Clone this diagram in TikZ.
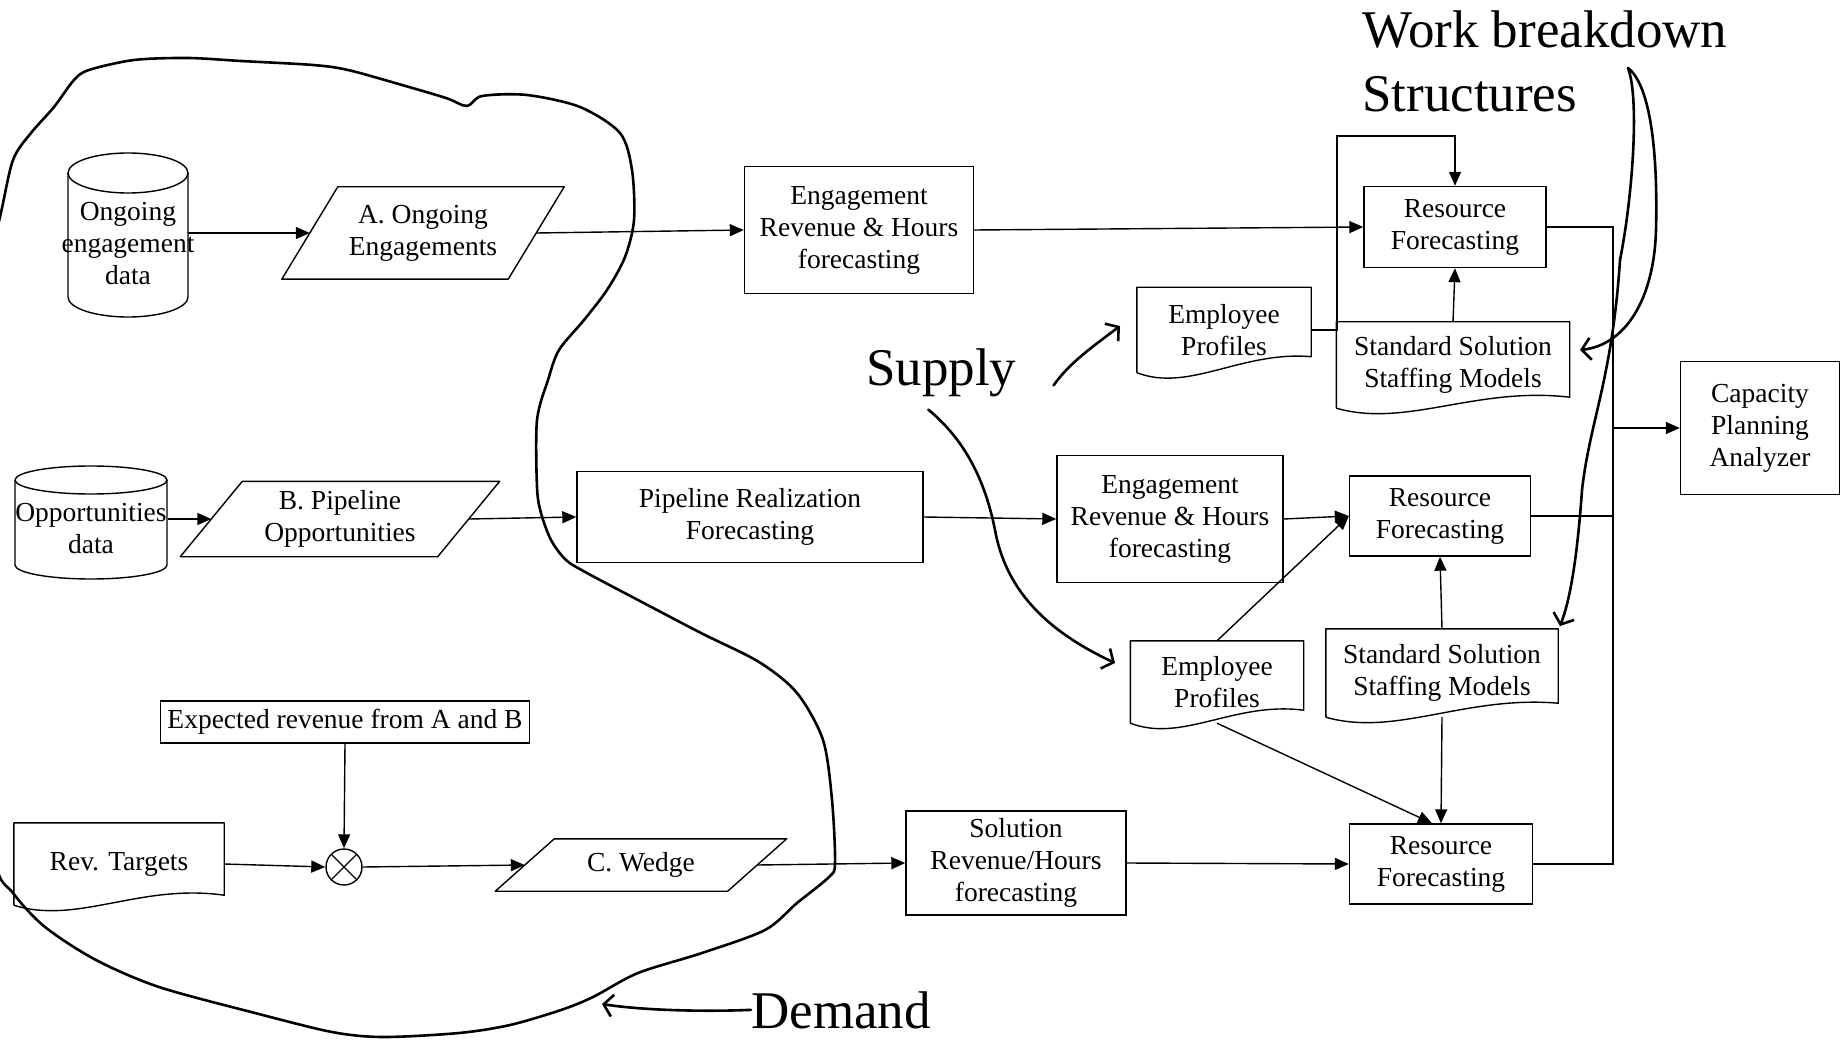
\documentclass[tikz,border=0pt]{standalone}
\usepackage{fontspec}
\setmainfont{Liberation Serif}
\usetikzlibrary{arrows.meta,calc}

\newcommand{\flowfont}{\fontsize{27.5}{32}\selectfont}
\newcommand{\notefont}{\fontsize{53}{64}\selectfont}

\tikzset{
  flow/.style={draw, rectangle, align=center, inner sep=2pt, line width=1.4pt, font=\flowfont},
  store/.style={rectangle, align=center, inner sep=0pt, font=\flowfont},
  slant/.style={rectangle, align=center, inner sep=0pt, font=\flowfont},
  docu/.style={rectangle, align=center, inner sep=0pt, font=\flowfont},
  outline/.style={line width=1.4pt, line join=round},
  arr/.style={line width=1.4pt, -{Triangle[length=14pt,width=12pt]}},
  link/.style={line width=1.4pt},
  hand/.style={line width=2.6pt, line cap=round, line join=round},
  handarr/.style={hand, -{Straight Barb[length=9pt,width=22pt]}},
  note/.style={inner sep=0pt, font=\notefont}
}

\begin{document}
\begin{tikzpicture}[x=1pt, y=-1pt]
  \useasboundingbox (0,0) rectangle (1841,1040);

  % demand side
  \node[store, minimum width=120pt, minimum height=120pt, inner xsep=-8pt] (ongoing) at (128,244) {Ongoing\\engagement\\data};
  \node[slant, minimum width=226pt, minimum height=92pt] (enga) at (423,233) {A. Ongoing\\Engagements};
  \node[store, minimum width=153pt, minimum height=80pt, inner xsep=-3pt] (oppdata) at (91,529) {Opportunities\\data};
  \node[slant, minimum width=257pt, minimum height=75pt] (pipeb) at (340,519) {B. Pipeline\\Opportunities};
  \node[flow, minimum width=369pt, minimum height=42pt] (expected) at (345,722) {Expected revenue from A and B};
  \node[docu, minimum width=210pt, minimum height=82pt] (revtarget) at (119,864) {Rev. Targets};
  \node[draw, circle, line width=1.4pt, minimum size=36pt, inner sep=0pt,
    path picture={\draw[line width=1.2pt] (path picture bounding box.north west) -- (path picture bounding box.south east)
      (path picture bounding box.north east) -- (path picture bounding box.south west);}] (times) at (344,867) {};
  \node[slant, minimum width=232pt, minimum height=52pt] (wedge) at (641,865) {C. Wedge};

  % forecasting
  \node[flow, minimum width=229pt, minimum height=127pt] (erh1) at (859,230) {Engagement\\Revenue \& Hours\\forecasting};
  \node[flow, minimum width=346pt, minimum height=91pt] (prf) at (750,517) {Pipeline Realization\\Forecasting};
  \node[flow, minimum width=226pt, minimum height=127pt] (erh2) at (1170,519) {Engagement\\Revenue \& Hours\\forecasting};
  \node[flow, minimum width=220pt, minimum height=104pt] (srh) at (1016,863) {Solution\\Revenue/Hours\\forecasting};

  % supply side
  \node[flow, minimum width=182pt, minimum height=81pt] (rf1) at (1455,227) {Resource\\Forecasting};
  \node[docu, minimum width=174pt, minimum height=85pt] (ep1) at (1224,330) {Employee\\Profiles};
  \node[docu, minimum width=233pt, minimum height=86pt] (sssm1) at (1453,365) {Standard Solution\\Staffing Models};
  \node[flow, minimum width=181pt, minimum height=80pt] (rf2) at (1440,516) {Resource\\Forecasting};
  \node[docu, minimum width=173pt, minimum height=82pt] (ep2) at (1217,682) {Employee\\Profiles};
  \node[docu, minimum width=232pt, minimum height=88pt] (sssm2) at (1442,673) {Standard Solution\\Staffing Models};
  \node[flow, minimum width=183pt, minimum height=80pt] (rf3) at (1441,864) {Resource\\Forecasting};
  \node[flow, minimum width=159pt, minimum height=133pt] (cpa) at (1760,428) {Capacity\\Planning\\Analyzer};

  % outlines of the drums, slanted and document shapes
  \foreach \n/\w/\r/\t/\b in {ongoing/60/20/153/317,oppdata/76/14/466/579}{
    \draw[outline] ($(\n.center |- 0,\t)+(0,\r)$) ellipse [x radius=\w, y radius=\r];
    \draw[outline] ($(\n.center |- 0,\t)+(-\w,\r)$) -- ($(\n.center |- 0,\b)+(-\w,-\r)$)
      arc[start angle=180, end angle=0, x radius=\w, y radius=\r] -- ($(\n.center |- 0,\t)+(\w,\r)$);
  }
  \foreach \n/\s in {enga/56,pipeb/62,wedge/59}
    \draw[outline] ($(\n.north west)+(\s/2,0)$) -- ($(\n.north east)+(\s/2,0)$)
      -- ($(\n.south east)-(\s/2,0)$) -- ($(\n.south west)-(\s/2,0)$) -- cycle;
  \foreach \n/\r in {ep1/16,sssm1/11,ep2/13,sssm2/14,revtarget/10}
    \draw[outline] (\n.south west) -- (\n.north west) -- (\n.north east) -- ($(\n.south east)+(0,-\r)$)
      .. controls ($(\n.south west)!0.6!(\n.south east)+(0,-22)$) and ($(\n.south west)!0.3!(\n.south east)+(0,20)$) .. (\n.south west);

  \coordinate (looptop) at (1337,136);
  \coordinate (bus) at (1613,428);

  \draw[arr] (ongoing.east |- enga.west) -- (enga.west);
  \draw[arr] (enga.east) -- (erh1.west);
  \draw[arr] (erh1.east) -- (rf1.west);
  \draw[arr] (ep1.east) -- (ep1.east -| looptop) -- (looptop) -| (rf1.north);
  \draw[arr] (sssm1.north) -- (rf1.south);
  \draw[arr] (oppdata.east |- pipeb.west) -- (pipeb.west);
  \draw[arr] (pipeb.east) -- (prf.west);
  \draw[arr] (prf.east) -- (erh2.west);
  \draw[arr] (erh2.east) -- (rf2.west);
  \draw[arr] (ep2.north) -- (rf2.west);
  \draw[arr] (sssm2.north) -- (rf2.south);
  \draw[arr] (sssm2.south) -- (rf3.north);
  \draw[arr] (ep2.south) -- ($(rf3.north)+(-9,0)$);
  \draw[arr] (expected.south) -- (times.north);
  \draw[arr] (revtarget.east) -- (times.west);
  \draw[arr] (times.east) -- (wedge.west);
  \draw[arr] (wedge.east) -- (srh.west);
  \draw[arr] (srh.east) -- (rf3.west);
  \draw[link] (rf1.east) -| (bus |- rf3.east) -- (rf3.east);
  \draw[link] (rf2.east) -- (rf2.east -| bus);
  \draw[arr] (bus) -- (cpa.west);

  % hand written notes
  \node[note, anchor=north west, align=left] (wbs) at (1362,11) {Work breakdown\\Structures};
  \node[note, anchor=base west] (supply) at (866,385) {Supply};
  \node[note, anchor=base west] (demand) at (751,1028) {Demand};

  \begin{scope}
    \clip (0,0) rectangle (1841,1040);
    \draw[hand] plot[smooth cycle, tension=0.5] coordinates {
      (0,217) (13,160) (31,133) (54,107) (74,80) (89,70) (134,60) (188,58) (241,61)
      (313,65) (348,70) (402,85) (446,98) (467,106) (482,96) (527,95) (580,107)
      (620,133) (632,170) (634,220) (625,257) (607,290) (584,320) (559,350) (548,380)
      (537,420) (537,487) (541,513) (551,540) (566,560) (587,573) (638,600) (701,633)
      (759,662) (797,693) (823,740) (832,800) (835,863) (829,877) (797,903) (765,930)
      (702,953) (638,973) (593,997) (561,1010) (510,1025) (459,1033) (383,1037)
      (332,1032) (255,1013) (159,987) (96,960) (45,927) (13,893) (-5,860)
      (-25,700) (-30,500) (-20,300)};
  \end{scope}

  \coordinate (demandtip) at (602,1004);
  \coordinate (supplytip1) at (1120,326);
  \coordinate (supplytip2) at (1115,663);
  \coordinate (wbstop) at (1628,68);
  \coordinate (wbstip1) at (1580,350);
  \coordinate (wbstip2) at (1560,626);

  \draw[handarr] (demand.west) .. controls (700,1012) and (640,1010) .. (demandtip);
  \draw[handarr] ($(supply.east)+(37,13)$) .. controls (1070,362) and (1095,345) .. (supplytip1);
  \draw[handarr] ($(supply.south)+(-13,13)$) .. controls (965,440) and (985,480) .. (995,530)
    .. controls (1005,585) and (1040,628) .. (supplytip2);
  \draw[handarr] (wbstop) .. controls (1650,85) and (1658,150) .. (1656,230)
    .. controls (1654,300) and (1625,345) .. (wbstip1);
  \draw[handarr] (wbstop) .. controls (1640,100) and (1632,200) .. (1620,260)
    .. controls (1612,380) and (1590,420) .. (1582,490)
    .. controls (1577,560) and (1570,600) .. (wbstip2);
\end{tikzpicture}
\end{document}
